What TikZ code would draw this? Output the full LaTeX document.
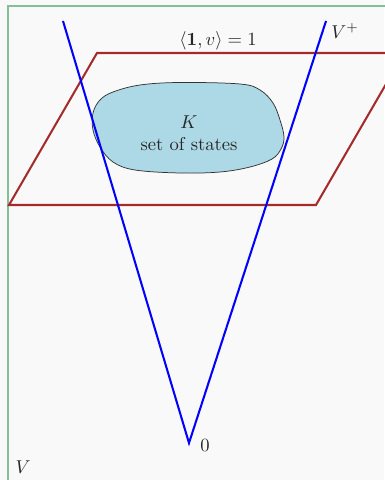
\documentclass[tikz,border=0pt]{standalone}
\usepackage{amsmath}
\definecolor{bgc}{HTML}{F9F9F9}
\definecolor{framec}{HTML}{82C09A}
\definecolor{planec}{HTML}{A52A2A}
\definecolor{blobc}{HTML}{ADD8E6}
\tikzset{
  cone/.style={blue, line width=1.1pt},
  plane/.style={planec, line width=1.1pt, line join=miter},
  blob/.style={fill=blobc, draw=black!80, line width=0.4pt},
  lbl/.style={inner sep=0pt, text=black!85},
}
\begin{document}
\begin{tikzpicture}[x=0.538pt, y=-0.538pt]
\useasboundingbox (0,0) rectangle (384,480);
\fill[bgc] (0,0) rectangle (384,480);
\draw[framec, line width=0.75pt] (8,490) -- (8,6) -- (400,6);
% plane
\coordinate (p1) at (9,205);
\coordinate (p2) at (97,53);
\coordinate (p3) at (404,53);
\coordinate (p4) at (316,205);
\draw[plane] (p1) -- (p2) -- (p3) -- (p4) -- cycle;
% blob
\draw[blob] plot[smooth cycle, tension=0.6] coordinates {
 (93,113) (100,100) (113,92) (140,85) (180,82.5) (240,84) (260,90) (273,103)
 (280,120) (284,137) (281,149) (272,159) (250,167) (220,172) (180,173)
 (135,170) (113,162) (100,147) (93,130)};
\node[lbl, align=center] (K) at (189,133) {$K$\\set of states};
% cone
\coordinate (cl) at (63,21);
\coordinate (o) at (189,443);
\coordinate (cr) at (326,21);
\draw[cone] (cl) -- (o) -- (cr);
\node[lbl] (eq) at (218,41) {$\langle \mathbf{1}, v\rangle = 1$};
\node[lbl] (vp) at (345,31) {$V^{+}$};
\node[lbl] (zero) at (205,446) {$0$};
\node[lbl] (V) at (23,467) {$V$};
\end{tikzpicture}
\end{document}
